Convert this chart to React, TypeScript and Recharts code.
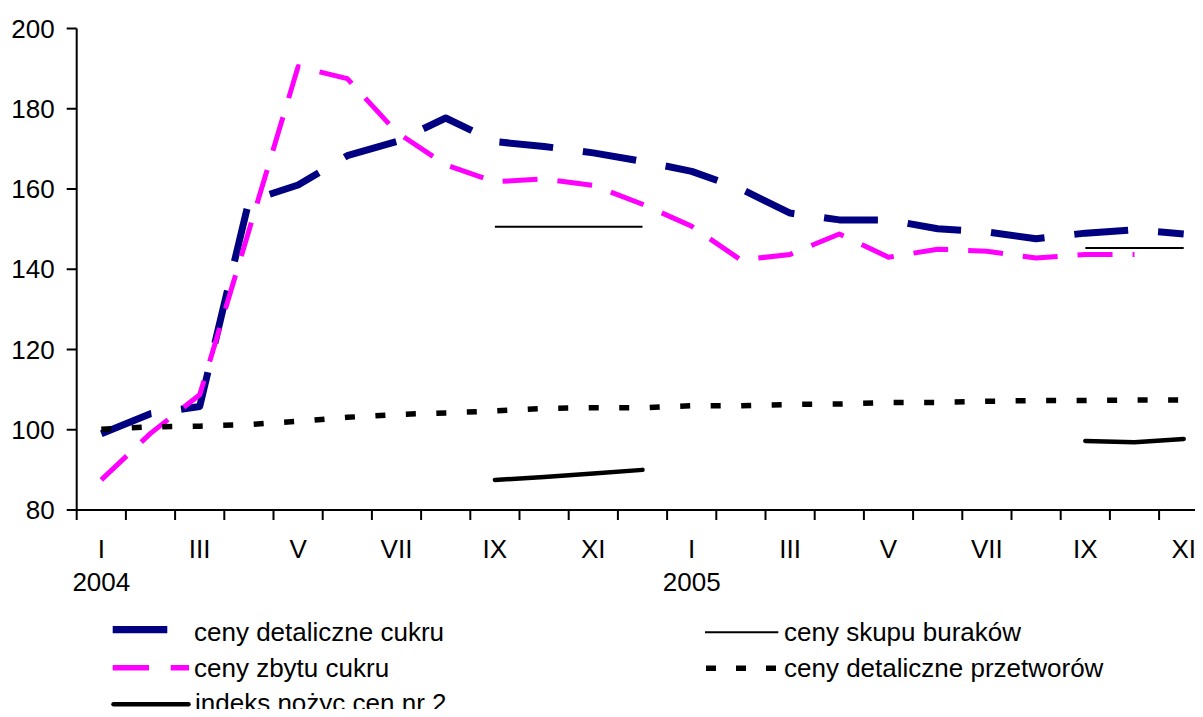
import React from 'react';
import { LineChart, Line, XAxis, YAxis, Legend } from 'recharts';

// ---- data ----
const months = ['I', 'II', 'III', 'IV', 'V', 'VI', 'VII', 'VIII', 'IX', 'X', 'XI', 'XII',
  'I', 'II', 'III', 'IV', 'V', 'VI', 'VII', 'VIII', 'IX', 'X', 'XI'];
const tickLabels = ['I', 'III', 'V', 'VII', 'IX', 'XI', 'I', 'III', 'V', 'VII', 'IX', 'XI'];
const yearLabels = ['2004', '2005'];
const yTicks = [80, 100, 120, 140, 160, 180, 200];

const seriesNames = [
  'ceny detaliczne cukru',
  'ceny skupu buraków',
  'ceny zbytu cukru',
  'ceny detaliczne przetworów',
  'indeks nożyc cen nr 2',
];

const detaliczneCukru = [99, 104, 105.8, 157, 161, 168.3, 171.8, 177.7, 171.8, 170.6, 169, 166.9,
  164.4, 160, 154, 152.3, 152.3, 150.1, 149.3, 147.6, 149, 149.8, 148.8];
const skupuBurakow = [null, null, null, null, null, null, null, null, 150.6, 150.6, 150.6, 150.6,
  null, null, null, null, null, null, null, null, 145.3, 145.3, 145.3];
const zbytuCukru = [87.5, 99.1, 108.7, 149.6, 190.5, 187.5, 174.2, 166, 161.8, 162.5, 160.9, 156.2,
  150.7, 142.3, 143.7, 148.8, 143, 145, 144.5, 142.8, 143.7, 143.7, null];
const przetworow = [100.1, 100.7, 100.9, 101.3, 102.1, 103.1, 103.8, 104.2, 104.7, 105.3, 105.5, 105.5,
  106, 106, 106.3, 106.4, 106.8, 106.8, 107.1, 107.3, 107.3, 107.4, 107.4];
const indeksNozyc = [null, null, null, null, null, null, null, null, 87.5, 88.2, 89.1, 90,
  null, null, null, null, null, null, null, null, 97.2, 96.9, 97.7];

const data = months.map((m, i) => ({
  x: i + 0.5,
  month: m,
  a: detaliczneCukru[i],
  b: skupuBurakow[i],
  c: zbytuCukru[i],
  d: przetworow[i],
  e: indeksNozyc[i],
}));

const N = months.length;
const xTicks = Array.from({ length: N + 1 }, (_, i) => i);

// ---- layout ----
const CHART_W = 1230;
const CHART_H = 717;
const Y_W = 76.7;
const M_RIGHT = 21.7;
const M_TOP = 28.5;
const M_BOTTOM = 117;
const X_H = 90;
const HALF = (CHART_W - M_RIGHT - Y_W) / N / 2;
const FONT = 26;

const XTick = (props: any) => {
  const { x, y, payload } = props;
  const k = payload.value;
  if (k % 2 !== 0 || k >= N) return <g />;
  const cx = x + HALF;
  const label = tickLabels[k / 2];
  return (
    <g>
      <text x={cx} y={y + 37.5} textAnchor="middle" fontSize={FONT} fill="#000">{label}</text>
      {k === 0 && (
        <text x={cx} y={y + 70.5} textAnchor="middle" fontSize={FONT} fill="#000">{yearLabels[0]}</text>
      )}
      {k === 12 && (
        <text x={cx} y={y + 70.5} textAnchor="middle" fontSize={FONT} fill="#000">{yearLabels[1]}</text>
      )}
    </g>
  );
};

const renderLegend = () => (
  <svg width={1203} height={117} style={{ display: 'block' }}>
    <line x1={112.7} y1={29.7} x2={167.3} y2={29.7} stroke="#000080" strokeWidth={7.3} />
    <text x={194} y={40.7} fontSize={FONT} fill="#000">{seriesNames[0]}</text>
    <line x1={112.7} y1={67.8} x2={189} y2={67.8} stroke="#FF00FF" strokeWidth={5.5} strokeDasharray="36.3 21.7" />
    <text x={194} y={77} fontSize={FONT} fill="#000">{seriesNames[2]}</text>
    <line x1={113.5} y1={104.3} x2={188.5} y2={104.3} stroke="#000" strokeWidth={4.5} strokeLinecap="round" />
    <text x={195} y={112} fontSize={FONT} fill="#000">{seriesNames[4]}</text>
    <line x1={705} y1={32.3} x2={778.3} y2={32.3} stroke="#000" strokeWidth={2} />
    <text x={784} y={40.7} fontSize={FONT} fill="#000">{seriesNames[1]}</text>
    <line x1={706} y1={68.3} x2={776} y2={68.3} stroke="#000" strokeWidth={5.5} strokeDasharray="10 20" />
    <text x={784} y={77} fontSize={FONT} fill="#000">{seriesNames[3]}</text>
  </svg>
);

export default function App() {
  return (
    <div
      style={{
        margin: -8,
        width: 1203,
        height: 717,
        overflow: 'hidden',
        position: 'relative',
        background: '#fff',
        fontFamily: "'Liberation Sans', Arial, sans-serif",
      }}
    >
      <LineChart
        width={CHART_W}
        height={CHART_H}
        data={data}
        margin={{ top: M_TOP, right: M_RIGHT, bottom: M_BOTTOM, left: 0 }}
      >
        <XAxis
          dataKey="x"
          type="number"
          domain={[0, N]}
          ticks={xTicks}
          interval={0}
          height={X_H}
          axisLine={{ stroke: '#000', strokeWidth: 2 }}
          tickLine={{ stroke: '#000', strokeWidth: 2 }}
          tickSize={10}
          tickMargin={0}
          tick={<XTick />}
          allowDataOverflow
        />
        <YAxis
          type="number"
          domain={[80, 200]}
          ticks={yTicks}
          interval={0}
          width={Y_W}
          axisLine={{ stroke: '#000', strokeWidth: 2 }}
          tickLine={{ stroke: '#000', strokeWidth: 2 }}
          tickSize={10}
          tickMargin={12}
          tick={{ fill: '#000', fontSize: FONT }}
        />
        <Line dataKey="a" name={seriesNames[0]} stroke="#000080" strokeWidth={7} strokeDasharray="54 30"
          strokeLinejoin="round" dot={false} activeDot={false} isAnimationActive={false} connectNulls={false} />
        <Line dataKey="b" name={seriesNames[1]} stroke="#000" strokeWidth={2}
          dot={false} activeDot={false} isAnimationActive={false} connectNulls={false} />
        <Line dataKey="c" name={seriesNames[2]} stroke="#FF00FF" strokeWidth={5} strokeDasharray="35 20"
          strokeLinejoin="round" dot={false} activeDot={false} isAnimationActive={false} connectNulls={false} />
        <Line dataKey="d" name={seriesNames[3]} stroke="#000" strokeWidth={5.5} strokeDasharray="10 20.5"
          dot={false} activeDot={false} isAnimationActive={false} connectNulls={false} />
        <Line dataKey="e" name={seriesNames[4]} stroke="#000" strokeWidth={4.5} strokeLinecap="round" strokeLinejoin="round"
          dot={false} activeDot={false} isAnimationActive={false} connectNulls={false} />
        <Legend
          layout="horizontal"
          verticalAlign="middle"
          align="center"
          wrapperStyle={{ left: 0, top: 600, width: 1203, height: 117 }}
          content={renderLegend}
        />
      </LineChart>
    </div>
  );
}
